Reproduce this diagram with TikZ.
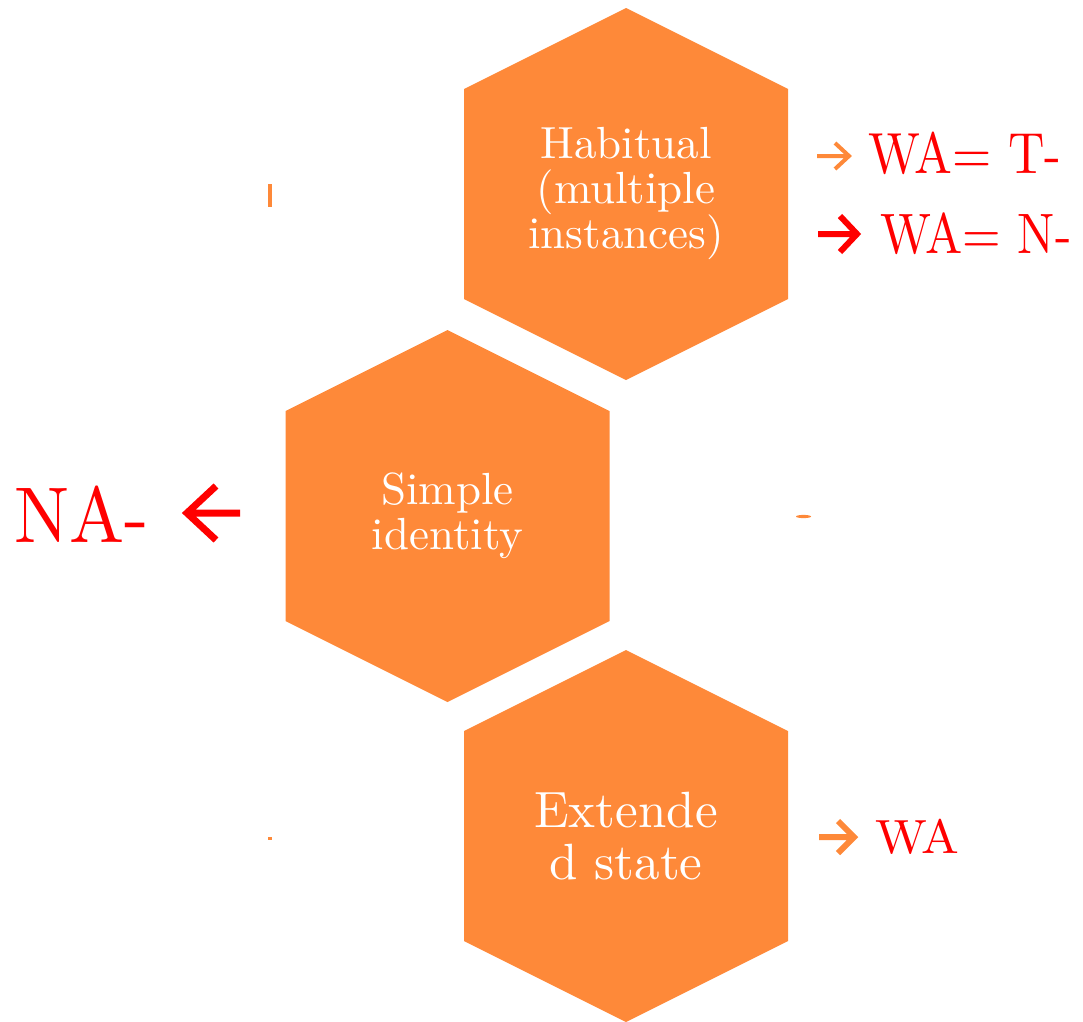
\documentclass[tikz,border=0pt]{standalone}
\usepackage{fontspec}
\usepackage{graphicx}
\newfontfamily\cellfont{lmroman10-regular.otf}
\definecolor{hexorange}{RGB}{254,137,57}
\definecolor{markred}{RGB}{255,0,0}
% one hexagon cell around its centre (#1,#2)
\newcommand{\hexcell}[2]{\fill[hexorange] (#1,#2) ++(0,-186) -- ++(162,81) -- ++(0,210) -- ++(-162,81) -- ++(-162,-81) -- ++(0,-210) -- cycle;}
\begin{document}
\begin{tikzpicture}[x=1pt, y=-1pt,
    celltext/.style={text=white, align=center, inner sep=0pt, font=\cellfont\fontsize{45}{45}\selectfont},
    redlabel/.style={text=markred, inner sep=0pt, anchor=base west},
    glyph/.style={line join=miter, line cap=butt}]
    \useasboundingbox (0,0) rectangle (1083,1021);
    \hexcell{626}{194} \hexcell{447.5}{516} \hexcell{626}{836}
    \node[celltext] (habitual) at (626,194) {Habitual\\(multiple\\instances)};
    \node[celltext] (simple) at (447.5,516) {Simple\\identity};
    \node[celltext, font=\cellfont\fontsize{51}{52}\selectfont] (extended) at (626,836) {Extende\\d state};
    % labels beside the cells
    \node[redlabel, font=\cellfont\fontsize{58}{58}\selectfont] (wat) at (868,173) {\scalebox{0.87}[1]{WA= T-}};
    \node[redlabel, font=\cellfont\fontsize{57}{57}\selectfont] (wan) at (880,253) {\scalebox{0.87}[1]{WA= N-}};
    \node[redlabel, font=\cellfont\fontsize{79}{79}\selectfont] (na) at (14,542) {\scalebox{0.93}[1]{NA-}};
    \node[redlabel, font=\cellfont\fontsize{48}{48}\selectfont] (wa) at (875,853) {\scalebox{1.05}[1]{WA}};
    % arrow glyphs
    \draw[glyph, hexorange, line width=4] (817,156) -- (849,156) (835,143) -- (849,156) -- (835,169);
    \draw[glyph, markred, line width=6] (818,234) -- (857,234) (840,216) -- (857,234) -- (840,252);
    \draw[glyph, markred, line width=7] (240,513) -- (187,513) (216,486) -- (187,513) -- (216,540);
    \draw[glyph, hexorange, line width=6] (819,837) -- (854,837) (838,821) -- (854,837) -- (838,853);
    % stray marks
    \fill[hexorange] (268,184) rectangle (272,207);
    \fill[hexorange] (803.5,516.5) ellipse (7.5 and 1.6);
    \fill[hexorange] (268,837) rectangle (272,840);
\end{tikzpicture}
\end{document}
